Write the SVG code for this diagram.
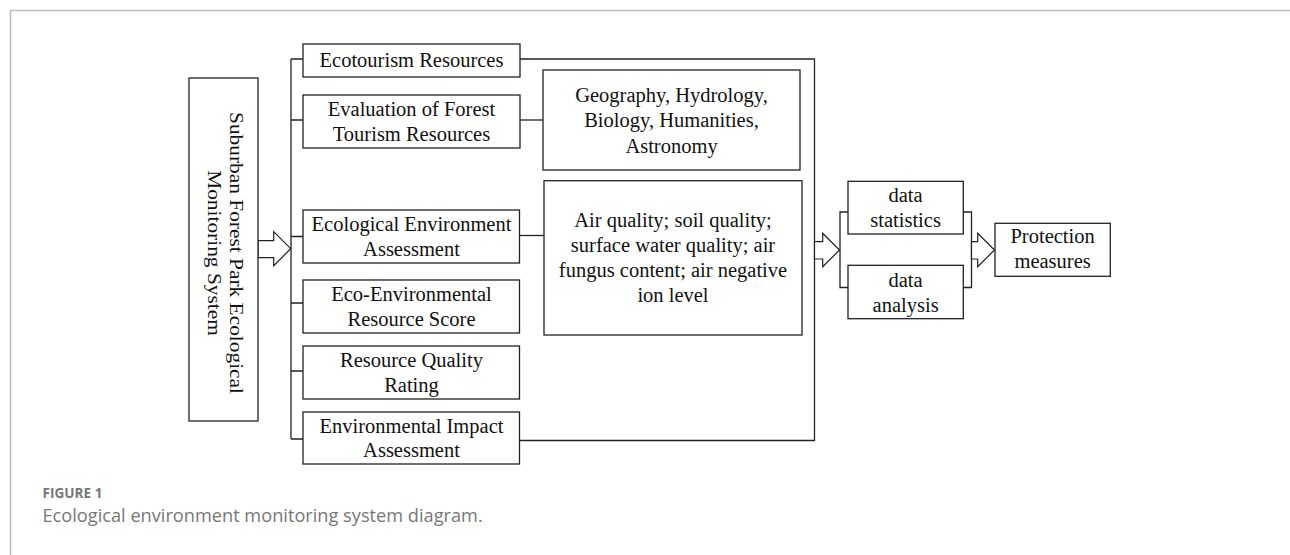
<svg xmlns="http://www.w3.org/2000/svg" width="1290" height="555" viewBox="0 0 1290 555">
<style>
.box{fill:#fff;stroke:#222;stroke-width:1.3}
.ln{fill:none;stroke:#222;stroke-width:1.3}
.ar{fill:#fff;stroke:#222;stroke-width:1.2;stroke-linejoin:miter}
.t{font-family:"Liberation Serif","Times New Roman",serif;font-size:20.5px;fill:#111;text-anchor:middle}
.cap1{font-family:"Open Sans","Noto Sans",sans-serif;font-size:13.6px;font-weight:bold;fill:#777}
.cap2{font-family:"Open Sans","Noto Sans",sans-serif;font-size:18.2px;fill:#777}
</style>
<rect x="0" y="0" width="1290" height="555" fill="#fff"/>
<path d="M10.5,555 V10.5 H1290" fill="none" stroke="#bdbdbd" stroke-width="1.5"/>

<g id="connectors">
<path class="ln" d="M291,59 V439"/>
<path class="ln" d="M291,59 H303 M291,120 H303 M291,236.5 H303 M291,303 H303 M291,371 H303 M291,439 H303"/>
<path class="ln" d="M520,59 H814.5 V440.5 H519"/>
<path class="ln" d="M520,120 H543"/>
<path class="ln" d="M519.5,235.5 H544"/>
<path class="ln" d="M848,212 H840 V287.5 H848"/>
<path class="ln" d="M963,212 H971.5 V287.5 H963"/>
<polygon class="ar" points="258,240.7 273.7,240.7 273.7,231.7 290.7,248.7 273.7,265.7 273.7,257.7 258,257.7"/>
<polygon class="ar" points="814.5,241.7 822.7,241.7 822.7,233.3 839.5,250 822.7,266.7 822.7,259 814.5,259"/>
<polygon class="ar" points="971.5,241.7 977.7,241.7 977.7,233.3 994.5,250 977.7,266.7 977.7,259 971.5,259"/>
</g>

<g id="main">
<rect class="box" x="189" y="78" width="69" height="343"/>
<g transform="translate(224,253) rotate(90) scale(1,0.86)">
<text class="t" x="0" y="-7" style="font-size:21.4px">Suburban Forest Park Ecological</text>
<text class="t" x="0" y="19" style="font-size:21.4px">Monitoring System</text>
</g>
</g>

<g id="ecotourism">
<rect class="box" x="303" y="44" width="217" height="33"/>
<text class="t" x="411.5" y="67.3">Ecotourism Resources</text>
</g>

<g id="evaluation">
<rect class="box" x="303" y="95" width="217" height="53"/>
<text class="t" x="411.5" y="116">Evaluation of Forest</text>
<text class="t" x="411.5" y="140.5">Tourism Resources</text>
</g>

<g id="eco-env-assessment">
<rect class="box" x="303" y="210" width="216.5" height="53"/>
<text class="t" x="411.5" y="231">Ecological Environment</text>
<text class="t" x="411.5" y="255.5">Assessment</text>
</g>

<g id="eco-env-score">
<rect class="box" x="303" y="280" width="216.5" height="53"/>
<text class="t" x="411.5" y="301">Eco-Environmental</text>
<text class="t" x="411.5" y="325.5">Resource Score</text>
</g>

<g id="quality-rating">
<rect class="box" x="303" y="346" width="216.5" height="53"/>
<text class="t" x="411.5" y="367">Resource Quality</text>
<text class="t" x="411.5" y="391.5">Rating</text>
</g>

<g id="impact">
<rect class="box" x="303" y="412" width="216.5" height="52"/>
<text class="t" x="411.5" y="432.5">Environmental Impact</text>
<text class="t" x="411.5" y="457">Assessment</text>
</g>

<g id="geography">
<rect class="box" x="543" y="70" width="257" height="100"/>
<text class="t" x="671.5" y="101.8">Geography, Hydrology,</text>
<text class="t" x="671.5" y="127.3">Biology, Humanities,</text>
<text class="t" x="671.5" y="152.8">Astronomy</text>
</g>

<g id="air">
<rect class="box" x="544" y="180.7" width="258" height="154.3"/>
<text class="t" x="673" y="226.7">Air quality; soil quality;</text>
<text class="t" x="673" y="251.7">surface water quality; air</text>
<text class="t" x="673" y="276.7">fungus content; air negative</text>
<text class="t" x="673" y="301.7">ion level</text>
</g>

<g id="data-statistics">
<rect class="box" x="848" y="181.3" width="115.3" height="52.7"/>
<text class="t" x="905.6" y="201.7">data</text>
<text class="t" x="905.6" y="226.7">statistics</text>
</g>

<g id="data-analysis">
<rect class="box" x="848" y="265.3" width="115.3" height="53.4"/>
<text class="t" x="905.6" y="286.7">data</text>
<text class="t" x="905.6" y="311.7">analysis</text>
</g>

<g id="protection">
<rect class="box" x="995" y="223.3" width="115.3" height="53"/>
<text class="t" x="1052.6" y="243.3">Protection</text>
<text class="t" x="1052.6" y="268.3">measures</text>
</g>

<g id="caption">
<text class="cap1" x="42.5" y="497.5">FIGURE 1</text>
<text class="cap2" x="42.5" y="522">Ecological environment monitoring system diagram.</text>
</g>
</svg>
